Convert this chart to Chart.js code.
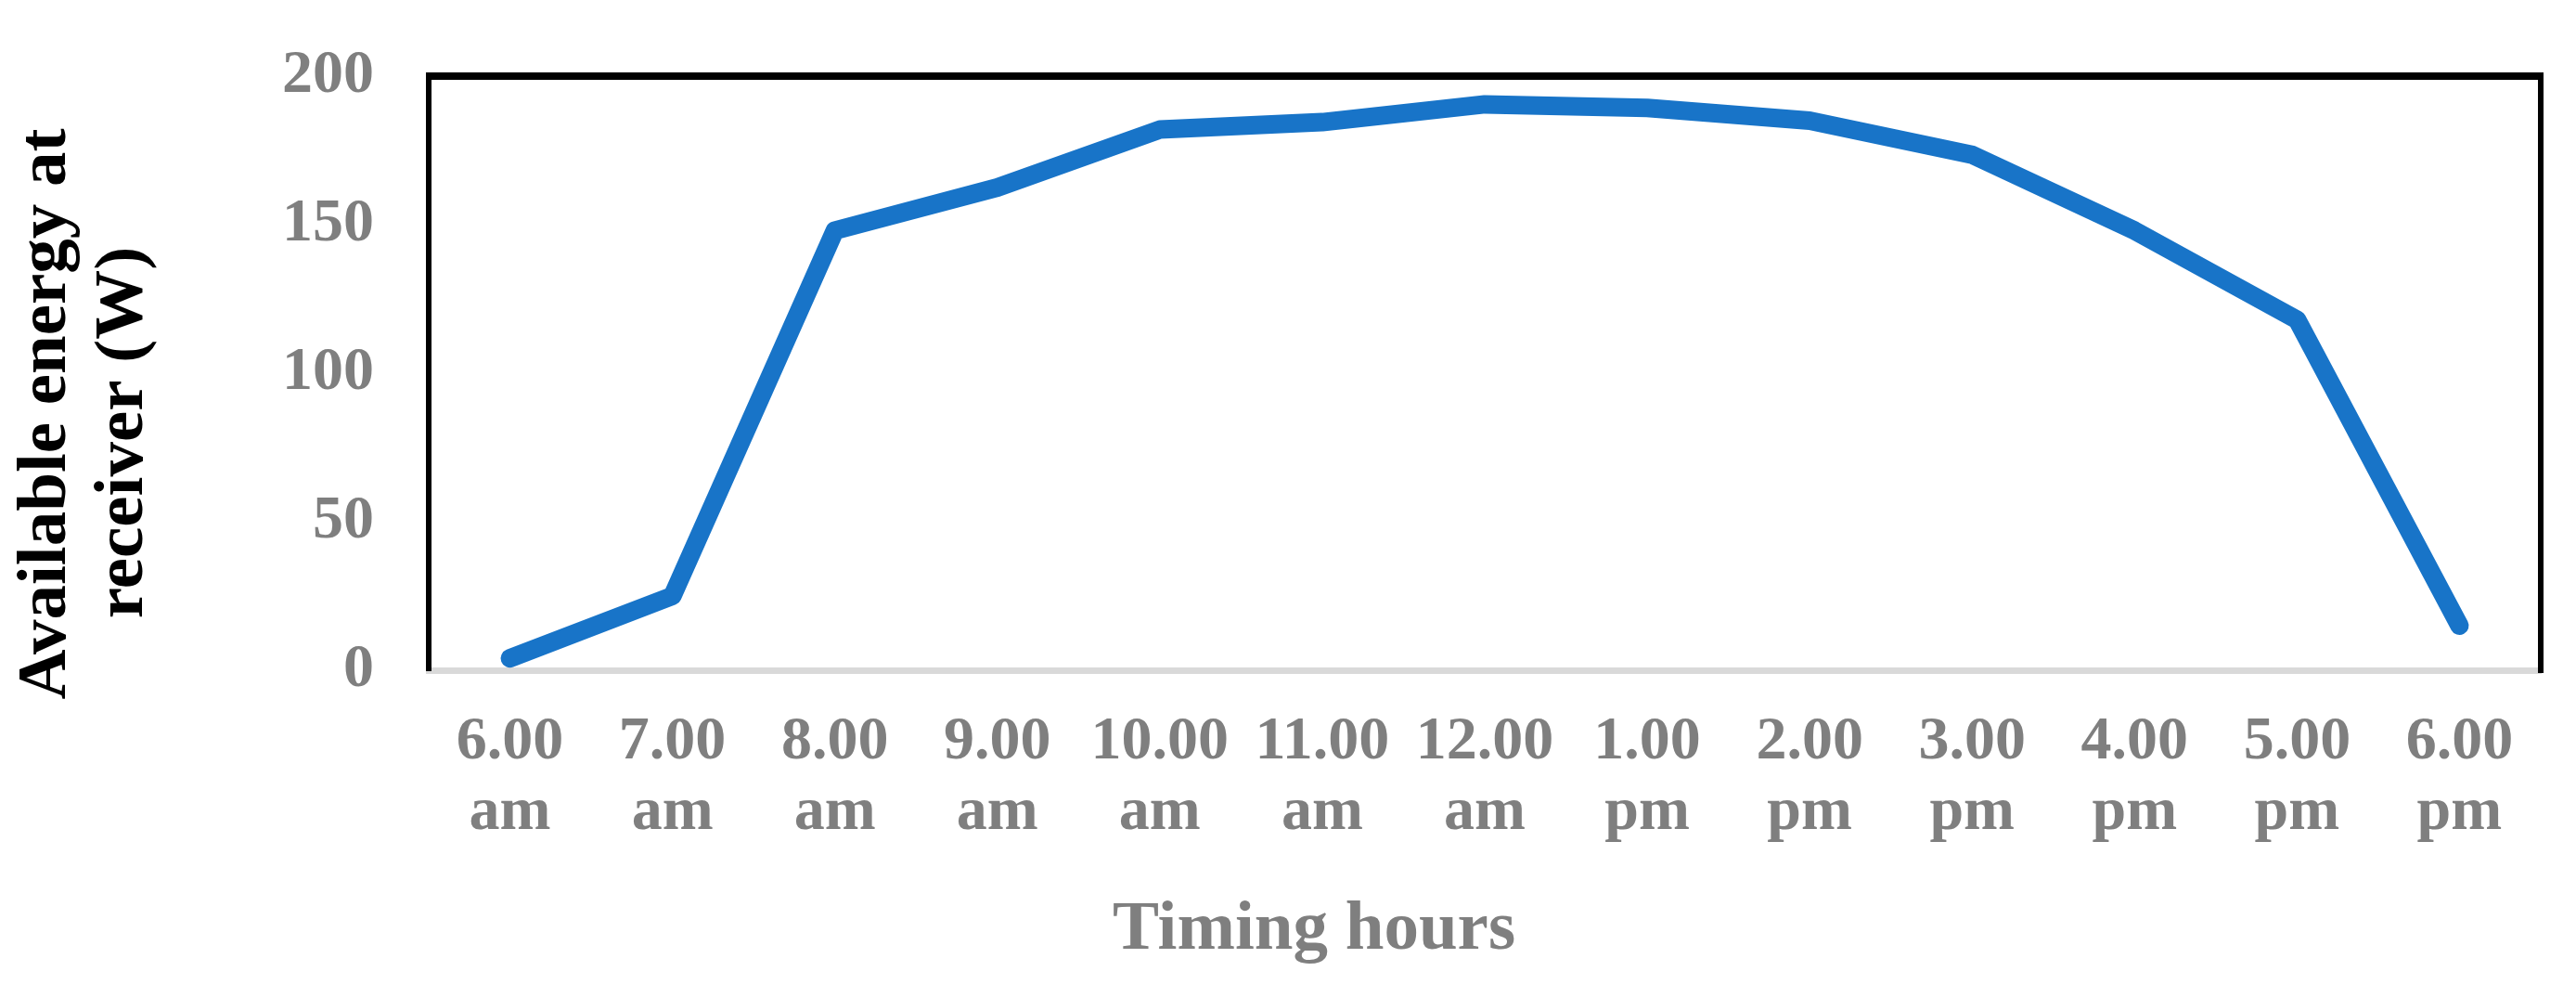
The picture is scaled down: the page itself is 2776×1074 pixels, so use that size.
<!DOCTYPE html>
<html>
<head>
<meta charset="utf-8">
<script src="https://cdn.jsdelivr.net/npm/chart.js@4.4.1/dist/chart.umd.min.js"></script>
<style>
    html, body { margin: 0; padding: 0; background: #fff; }
    canvas { display: block; }
</style>
</head>
<body>
<canvas id="chart" width="2776" height="1074"></canvas>
<script>
const timeLabels = [
    ["6.00", "am"], ["7.00", "am"], ["8.00", "am"], ["9.00", "am"],
    ["10.00", "am"], ["11.00", "am"], ["12.00", "am"], ["1.00", "pm"],
    ["2.00", "pm"], ["3.00", "pm"], ["4.00", "pm"], ["5.00", "pm"],
    ["6.00", "pm"],
];
const energyValues = [4, 25, 148, 162.5, 182, 184.5, 190.5, 189.3, 185, 173.5, 148, 118, 15];
const yMin = 0;
const yMax = 200;
const yStep = 50;
const xTitle = "Timing hours";
const yTitle = ["Available energy at", "receiver (W)"];

const gray = "#7f7f7f";
const serif = "'Liberation Serif', 'Times New Roman', serif";

// top + right black frame and both axis titles
const framePlugin = {
    id: "frame",
    afterDraw(chart) {
        const { ctx, chartArea: area } = chart;
        ctx.save();
        ctx.strokeStyle = "#000";
        ctx.lineWidth = 8;
        ctx.beginPath();
        ctx.moveTo(area.left - 3, area.top);
        ctx.lineTo(area.right + 3, area.top);
        ctx.stroke();
        ctx.lineWidth = 6;
        ctx.beginPath();
        ctx.moveTo(area.right, area.top);
        ctx.lineTo(area.right, area.bottom + 3);
        ctx.stroke();

        ctx.font = "bold 75px " + serif;
        ctx.textAlign = "center";
        ctx.textBaseline = "alphabetic";
        ctx.fillStyle = gray;
        ctx.fillText(xTitle, 1416, 1022);

        ctx.fillStyle = "#000";
        const yLines = [
            { x: 70, y: 446 },
            { x: 153, y: 466 },
        ];
        yTitle.forEach((text, i) => {
            ctx.save();
            ctx.translate(yLines[i].x, yLines[i].y);
            ctx.rotate(-Math.PI / 2);
            ctx.fillText(text, 0, 0);
            ctx.restore();
        });
        ctx.restore();
    },
};

new Chart(document.getElementById("chart"), {
    type: "line",
    data: {
        labels: timeLabels,
        datasets: [
            {
                data: energyValues,
                borderColor: "#1874c8",
                borderWidth: 20,
                borderCapStyle: "round",
                borderJoinStyle: "round",
                pointRadius: 0,
                tension: 0,
                clip: false,
            },
        ],
    },
    options: {
        responsive: false,
        animation: false,
        layout: {
            autoPadding: false,
            padding: { top: 82, right: 38, left: 0, bottom: 0 },
        },
        plugins: {
            legend: { display: false },
            tooltip: { enabled: false },
        },
        scales: {
            x: {
                offset: true,
                grid: { display: false, drawTicks: false },
                border: { display: true, color: "#d9d9d9", width: 7 },
                ticks: {
                    autoSkip: false,
                    maxRotation: 0,
                    padding: 40,
                    color: gray,
                    font: { family: serif, weight: "bold", size: 66, lineHeight: 1.15 },
                },
                afterFit(scale) {
                    scale.height = 352;
                    scale.paddingLeft = 0;
                    scale.paddingRight = 0;
                },
            },
            y: {
                min: yMin,
                max: yMax,
                grid: { display: false, drawTicks: false },
                border: { display: true, color: "#000", width: 6 },
                ticks: {
                    stepSize: yStep,
                    padding: 59,
                    color: gray,
                    font: { family: serif, weight: "bold", size: 66 },
                },
                afterFit(scale) {
                    scale.width = 462;
                    scale.paddingTop = 0;
                    scale.paddingBottom = 0;
                },
            },
        },
    },
    plugins: [framePlugin],
});
</script>
</body>
</html>
